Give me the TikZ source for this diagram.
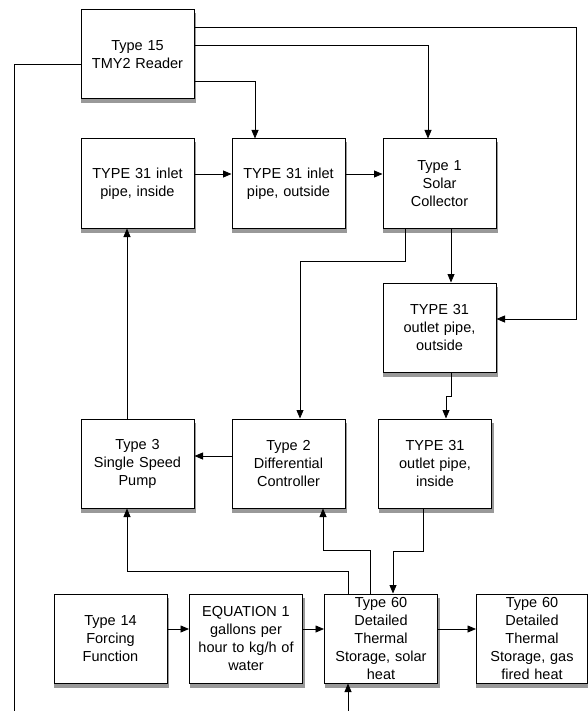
\documentclass[tikz,border=0pt]{standalone}
\usepackage{fontspec}
\setmainfont{Liberation Sans}
\usetikzlibrary{arrows.meta}

\begin{document}
\begin{tikzpicture}[x=1pt, y=-1pt,
  block/.style={draw, line width=1pt, fill=white, minimum width=113pt, minimum height=89pt,
    text width=108pt, align=center, inner sep=1pt,
    font=\fontsize{14.5}{18}\selectfont},
  shade/.style={fill=black!40, minimum width=115pt, minimum height=90pt, inner sep=0pt},
  link/.style={line width=0.8pt},
  flow/.style={link, -{Triangle[length=8.5pt, width=7pt]}}]

  \useasboundingbox (0,0) rectangle (588,711);

  % ── Shadows under the blocks ─────────────────────────────────────
  \foreach \x/\y/\s in {137.5/54.5/a, 137.5/183.5/b, 288.5/183.5/c, 439.5/183.5/d,
                        439.5/327.5/e, 137.5/463.5/f, 288.5/463.5/g, 435.0/463.5/h,
                        110.5/638.5/i, 246.0/638.5/j, 381.0/638.5/k, 532.0/638.5/l}{
    \node[shade] (sh\s) at (\x+1, \y+4) {};
  }

  % ── Blocks, row by row ───────────────────────────────────────────
  \node[block] (reader)  at (137.5, 54.5)  {Type 15\\TMY2 Reader};

  \node[block] (inpin)   at (137.5,183.5)  {TYPE 31 inlet\\pipe, inside};
  \node[block] (inpout)  at (288.5,183.5)  {TYPE 31 inlet\\pipe, outside};
  \node[block] (coll)    at (439.5,183.5)  {Type 1\\Solar\\Collector};

  \node[block] (outpout) at (439.5,327.5)  {TYPE 31\\outlet pipe,\\outside};

  \node[block] (pump)    at (137.5,463.5)  {Type 3\\Single Speed\\Pump};
  \node[block] (ctrl)    at (288.5,463.5)  {Type 2\\Differential\\Controller};
  \node[block] (outpin)  at (435.0,463.5)  {TYPE 31\\outlet pipe,\\inside};

  \node[block] (forcing) at (110.5,638.5)  {Type 14\\Forcing\\Function};
  \node[block] (equ)     at (246.0,638.5)  {EQUATION 1\\gallons per\\hour to kg/h of\\water};
  \node[block] (tank)    at (381.0,638.5)  {Type 60\\Detailed\\Thermal\\Storage, solar\\heat};
  \node[block, minimum width=111pt] (gas) at (532.0,638.5) {Type 60\\Detailed\\Thermal\\Storage, gas\\fired heat};

  % ── Free ends at the lower edge ──────────────────────────────────
  \coordinate (leftend) at (14,711);
  \coordinate (tankin)  at (348,711);

  % ── Weather reader outputs ───────────────────────────────────────
  \draw[flow] ([yshift=-18pt]reader.north east) -| ([xshift=80pt, yshift=8.5pt]outpout.east)
              -- ([yshift=8.5pt]outpout.east);
  \draw[flow] ([yshift=-36pt]reader.north east) -| ([xshift=-11.5pt]coll.north);
  \draw[flow] ([yshift=18pt]reader.south east) -| ([xshift=-33.5pt]inpout.north);
  \draw[link] ([yshift=-9.5pt]reader.west) -| (leftend);

  % ── Collector loop ───────────────────────────────────────────────
  \draw[flow] ([yshift=9.5pt]inpin.east) -- ([yshift=9.5pt]inpout.west);
  \draw[flow] ([yshift=9.5pt]inpout.east) -- ([yshift=9.5pt]coll.west);
  \draw[flow] ([xshift=-34.5pt]coll.south) -- ++(0,33) -| ([xshift=11.5pt]ctrl.north);
  \draw[flow] ([xshift=11.5pt]coll.south) -- ([xshift=11.5pt]outpout.north);
  \draw[flow] ([xshift=11.5pt]outpout.south) -- ++(0,24) -| ([xshift=11pt]outpin.north);
  \draw[flow] ([yshift=7.5pt]ctrl.west) -- ([yshift=7.5pt]pump.east);
  \draw[flow] ([xshift=-10.5pt]pump.north) -- ([xshift=-10.5pt]inpin.south);

  % ── Storage tank connections ─────────────────────────────────────
  \draw[flow] ([xshift=-33pt]tank.north) -- ++(0,-22) -| ([xshift=-10.5pt]pump.south);
  \draw[flow] ([xshift=-11pt]tank.north) -- ++(0,-43) -| ([xshift=34.5pt]ctrl.south);
  \draw[flow] ([xshift=-12pt]outpin.south) -- ++(0,43) -| ([xshift=12pt]tank.north);
  \draw[flow] (tankin) -- ([xshift=-33pt]tank.south);

  % ── Bottom row chain ─────────────────────────────────────────────
  \draw[flow] ([yshift=9.5pt]forcing.east) -- ([yshift=9.5pt]equ.west);
  \draw[flow] ([yshift=9.5pt]equ.east) -- ([yshift=9.5pt]tank.west);
  \draw[flow] ([yshift=9.5pt]tank.east) -- ([yshift=9.5pt]gas.west);

\end{tikzpicture}
\end{document}
